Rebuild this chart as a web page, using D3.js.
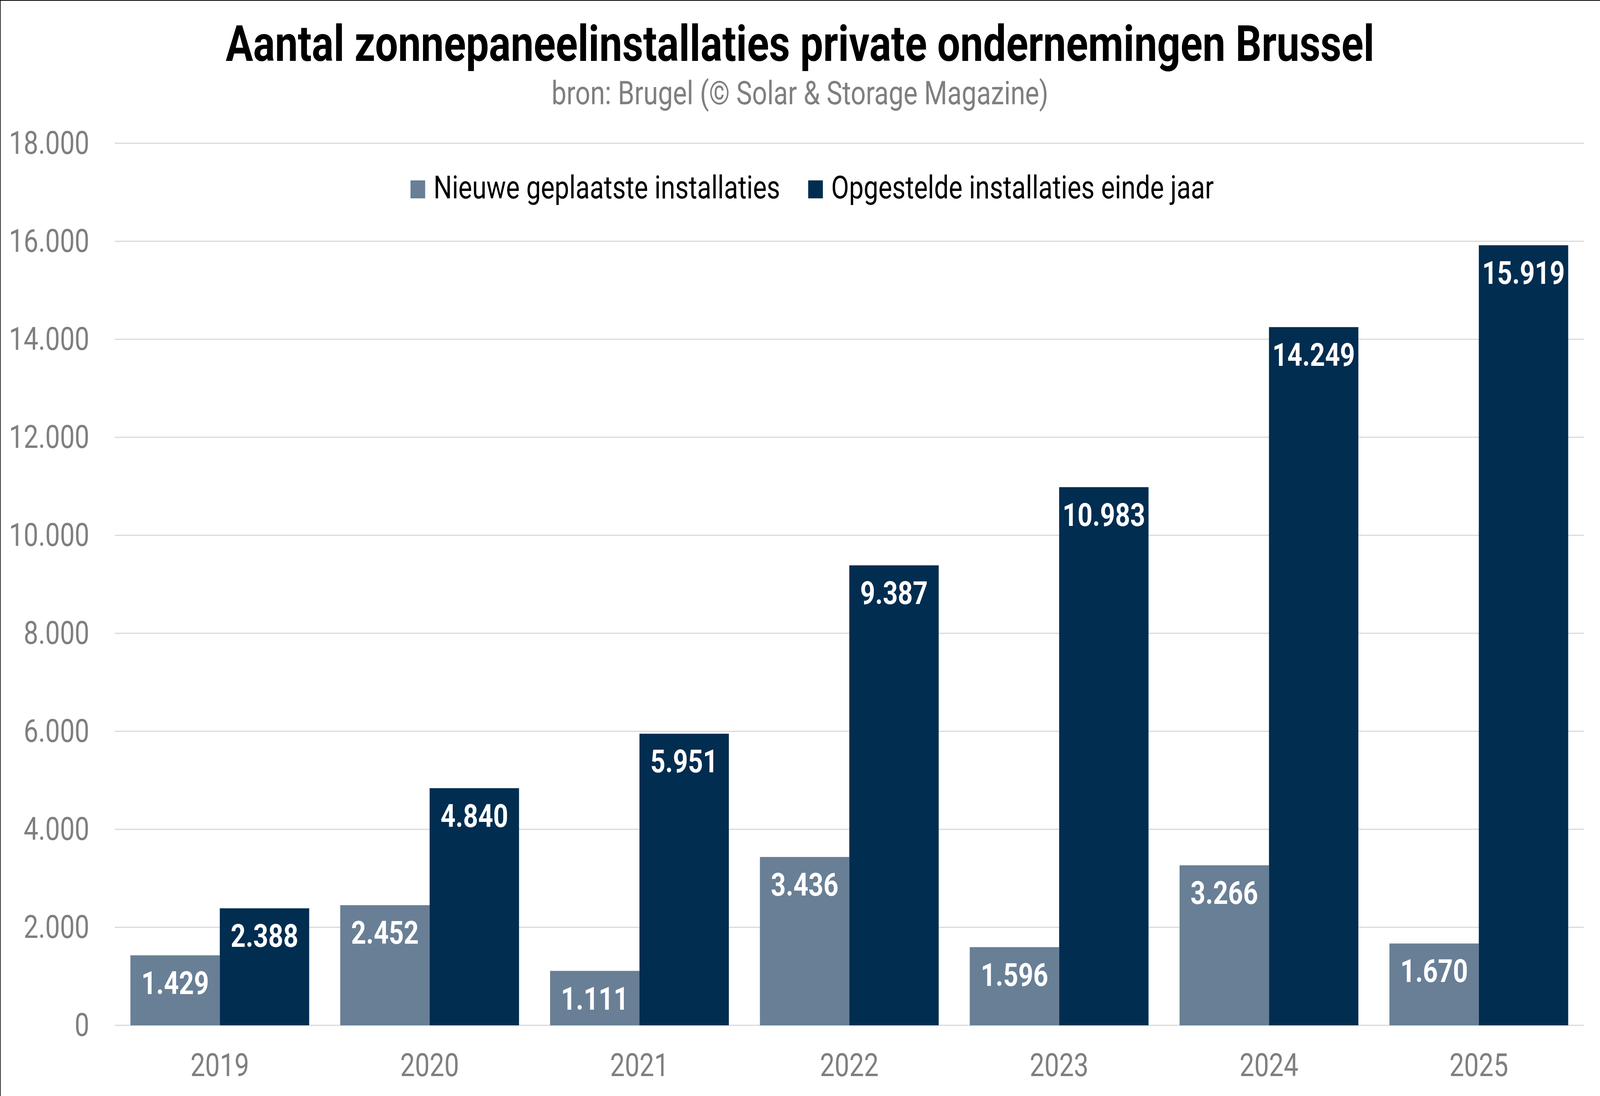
<!DOCTYPE html>
<html>
<head>
<meta charset="utf-8">
<script src="https://cdn.jsdelivr.net/npm/d3@7"></script>
<style>
  html, body { margin: 0; padding: 0; background: #fff; overflow: hidden; }
  svg { display: block; width: 100vw; height: 100vh; }
  text { font-family: Roboto, "Noto Sans", sans-serif; }
</style>
</head>
<body>
<div id="chart"></div>
<script>
// Data
const years = ["2019", "2020", "2021", "2022", "2023", "2024", "2025"]
const seriesNames = ["Nieuwe geplaatste installaties", "Opgestelde installaties einde jaar"]
const newInstalls = [1429, 2452, 1111, 3436, 1596, 3266, 1670]
const totalInstalls = [2388, 4840, 5951, 9387, 10983, 14249, 15919]
const yTicks = [0, 2000, 4000, 6000, 8000, 10000, 12000, 14000, 16000, 18000]

// Layout in reference pixels; the viewBox stretches it over the whole window
const W = 5014, H = 2807
const plot = { left: 360, right: 4963, top: 367, bottom: 2626 }
const colors = ["#687f96", "#012d50"]
const grey = "#7f7f7f"

const nl = d3.formatLocale({ decimal: ",", thousands: ".", grouping: [3], currency: ["€", ""] })
const fmt = nl.format(",d")

const svg = d3.select("#chart").append("svg")
  .attr("viewBox", `0 0 ${W} ${H}`)
  .attr("preserveAspectRatio", "none")

// frame edges visible in the reference (top and left)
svg.append("line").attr("x1", 0).attr("x2", W).attr("y1", 1).attr("y2", 1)
  .attr("stroke", "#000").attr("stroke-width", 2)
svg.append("line").attr("x1", 1).attr("x2", 1).attr("y1", 0).attr("y2", H)
  .attr("stroke", "#000").attr("stroke-width", 2)

// Scales
const x0 = d3.scaleBand()
  .domain(years)
  .range([plot.left, plot.right])
  .paddingInner(0.148)
  .paddingOuter(0.074)

const x1 = d3.scaleBand()
  .domain([0, 1])
  .range([0, x0.bandwidth()])

const y = d3.scaleLinear()
  .domain([0, 18000])
  .range([plot.bottom, plot.top])

// Gridlines
svg.append("g")
  .selectAll("line")
  .data(yTicks)
  .join("line")
  .attr("x1", plot.left)
  .attr("x2", plot.right)
  .attr("y1", d => y(d))
  .attr("y2", d => y(d))
  .attr("stroke", "#d9d9d9")
  .attr("stroke-width", 3)

// Y axis
const yAxis = svg.append("g")
  .attr("transform", `translate(${plot.left},0)`)
  .call(d3.axisLeft(y).tickValues(yTicks).tickSize(0).tickPadding(80).tickFormat(fmt))
yAxis.select(".domain").remove()
yAxis.selectAll("text")
  .attr("fill", grey)
  .style("font-size", "82px")
  .style("font-family", "Roboto")

// Bars
const rows = years.map((yr, i) => ({ year: yr, values: [newInstalls[i], totalInstalls[i]] }))

const groups = svg.append("g")
  .selectAll("g")
  .data(rows)
  .join("g")
  .attr("transform", d => `translate(${x0(d.year)},0)`)

groups.selectAll("rect")
  .data(d => d.values.map((v, k) => ({ k, v })))
  .join("rect")
  .attr("x", d => x1(d.k))
  .attr("width", x1.bandwidth())
  .attr("y", d => y(d.v))
  .attr("height", d => y(0) - y(d.v))
  .attr("fill", d => colors[d.k])

groups.selectAll("text")
  .data(d => d.values.map((v, k) => ({ k, v })))
  .join("text")
  .attr("x", d => x1(d.k) + x1.bandwidth() / 2)
  .attr("y", d => y(d.v) + 99)
  .attr("text-anchor", "middle")
  .attr("fill", "#fff")
  .style("font-size", "82px")
  .style("font-weight", "bold")
  .text(d => fmt(d.v))

// X axis
const xAxis = svg.append("g")
  .attr("transform", `translate(0,${plot.bottom})`)
  .call(d3.axisBottom(x0).tickSize(0).tickPadding(72))
xAxis.select(".domain").remove()
xAxis.selectAll("text")
  .attr("fill", grey)
  .style("font-size", "82px")
  .style("font-family", "Roboto")

// Title and subtitle
svg.append("text")
  .attr("x", W / 2)
  .attr("y", 156)
  .attr("text-anchor", "middle")
  .style("font-size", "128px")
  .style("font-weight", "bold")
  .text("Aantal zonnepaneelinstallaties private ondernemingen Brussel")

svg.append("text")
  .attr("x", W / 2)
  .attr("y", 267)
  .attr("text-anchor", "middle")
  .attr("fill", grey)
  .style("font-size", "83px")
  .text("bron: Brugel (© Solar & Storage Magazine)")

// Legend
const legend = svg.append("g")
const items = legend.selectAll("g")
  .data(seriesNames)
  .join("g")
items.append("rect")
  .attr("width", 46)
  .attr("height", 46)
  .attr("y", 462)
  .attr("fill", (d, i) => colors[i])
items.append("text")
  .attr("x", 72)
  .attr("y", 508)
  .style("font-size", "81.5px")
  .text(d => d)

let cx = 0
items.each(function () {
  const g = d3.select(this)
  g.attr("transform", `translate(${cx},0)`)
  cx += 72 + g.select("text").node().getComputedTextLength() + 88
})
const legendWidth = cx - 88
legend.attr("transform", `translate(${2545 - legendWidth / 2},0)`)
</script>
</body>
</html>
